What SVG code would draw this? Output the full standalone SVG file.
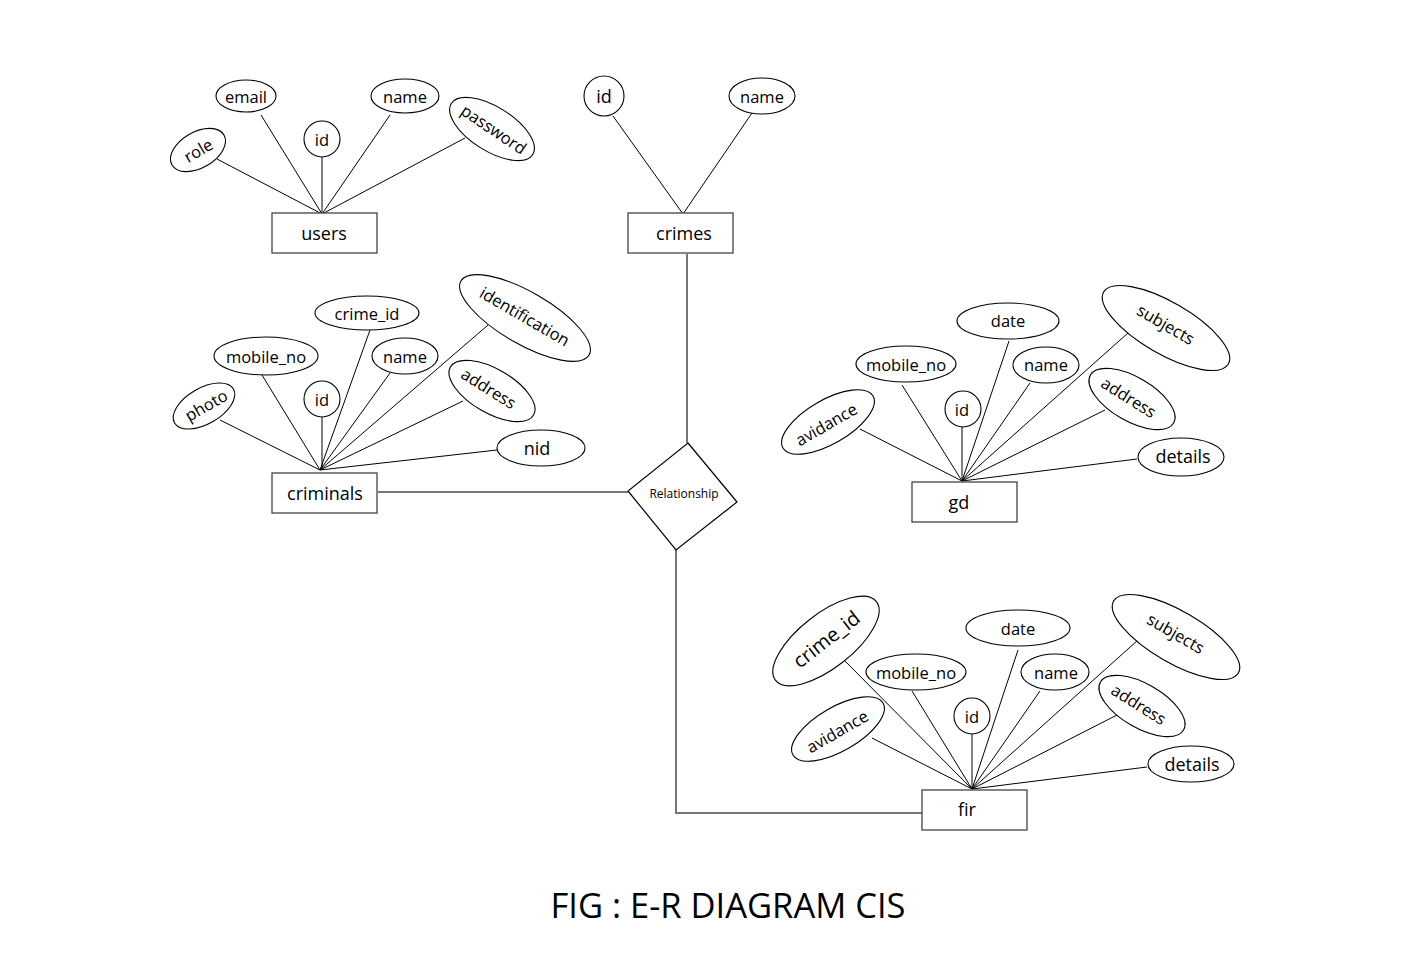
<svg xmlns="http://www.w3.org/2000/svg" width="1408" height="967" viewBox="0 0 1408 967">
<style>
.ent{fill:#fff;stroke:#444;stroke-width:1.3}
.att{fill:#fff;stroke:#000;stroke-width:1.1}
.ln{stroke:#000;stroke-width:1;fill:none}
.rel{stroke:#777;stroke-width:2;fill:none}
.t{font-family:"Open Sans","Liberation Sans",sans-serif;fill:#000;text-anchor:middle;dominant-baseline:central}
.a{font-size:16.5px}
.e{font-size:18px}
</style>
<rect width="1408" height="967" fill="#fff"/>
<g id="connectors">
<line class="ln" x1="322" y1="214" x2="217" y2="159"/>
<line class="ln" x1="322" y1="214" x2="261" y2="115"/>
<line class="ln" x1="322" y1="214" x2="322" y2="157"/>
<line class="ln" x1="322" y1="214" x2="390" y2="115"/>
<line class="ln" x1="322" y1="214" x2="465" y2="138"/>
<line class="ln" x1="683" y1="214" x2="613" y2="116"/>
<line class="ln" x1="683" y1="214" x2="752" y2="113"/>
<line class="ln" x1="320" y1="470" x2="220" y2="420"/>
<line class="ln" x1="320" y1="470" x2="262" y2="375"/>
<line class="ln" x1="322" y1="470" x2="322" y2="417"/>
<line class="ln" x1="320" y1="470" x2="370" y2="330"/>
<line class="ln" x1="320" y1="470" x2="390" y2="373"/>
<line class="ln" x1="320" y1="470" x2="488" y2="325"/>
<line class="ln" x1="320" y1="470" x2="463" y2="401"/>
<line class="ln" x1="320" y1="470" x2="497" y2="450"/>
<line class="ln" x1="962" y1="481" x2="860" y2="429"/>
<line class="ln" x1="962" y1="481" x2="902" y2="385"/>
<line class="ln" x1="962" y1="481" x2="962" y2="427"/>
<line class="ln" x1="962" y1="481" x2="1009" y2="341"/>
<line class="ln" x1="962" y1="481" x2="1030" y2="383"/>
<line class="ln" x1="962" y1="481" x2="1128" y2="333"/>
<line class="ln" x1="962" y1="481" x2="1105" y2="410"/>
<line class="ln" x1="962" y1="481" x2="1137" y2="459"/>
<line class="ln" x1="972" y1="789" x2="842" y2="658"/>
<line class="ln" x1="972" y1="789" x2="872" y2="738"/>
<line class="ln" x1="972" y1="789" x2="912" y2="691"/>
<line class="ln" x1="972" y1="789" x2="972" y2="734"/>
<line class="ln" x1="972" y1="789" x2="1018" y2="650"/>
<line class="ln" x1="972" y1="789" x2="1040" y2="691"/>
<line class="ln" x1="972" y1="789" x2="1138" y2="640"/>
<line class="ln" x1="972" y1="789" x2="1117" y2="715"/>
<line class="ln" x1="972" y1="789" x2="1147" y2="767"/>
<line class="rel" x1="687" y1="254" x2="687" y2="443"/>
<line class="rel" x1="378" y1="492" x2="628" y2="492"/>
<polyline class="rel" points="676,550 676,813 922,813"/>
</g>
<g id="users">
<rect class="ent" x="272" y="213" width="105" height="40"/>
<text class="t e" x="324" y="233">users</text>
</g>
<g id="users-role"><ellipse class="att" cx="198" cy="150" rx="30" ry="18" transform="rotate(-30 198 150)"/><text class="t a" x="198" y="150" transform="rotate(-30 198 150)">role</text></g>
<g id="users-email"><ellipse class="att" cx="246" cy="96" rx="30" ry="16"/><text class="t a" x="246" y="96">email</text></g>
<g id="users-id"><circle class="att" cx="322" cy="139" r="18"/><text class="t a" x="322" y="139">id</text></g>
<g id="users-name"><ellipse class="att" cx="405" cy="96" rx="34" ry="17"/><text class="t a" x="405" y="96">name</text></g>
<g id="users-password"><ellipse class="att" cx="492" cy="129" rx="48" ry="22" transform="rotate(32 492 129)"/><text class="t a" x="494" y="129" transform="rotate(34 494 129)">password</text></g>

<g id="crimes">
<rect class="ent" x="628" y="213" width="105" height="40"/>
<text class="t e" x="684" y="233">crimes</text>
</g>
<g id="crimes-id"><circle class="att" cx="604" cy="96" r="20"/><text class="t e" x="604" y="96">id</text></g>
<g id="crimes-name"><ellipse class="att" cx="762" cy="96" rx="33" ry="18"/><text class="t a" x="762" y="96">name</text></g>

<g id="criminals">
<rect class="ent" x="272" y="473" width="105" height="40"/>
<text class="t e" x="325" y="493">criminals</text>
</g>
<g id="criminals-photo"><ellipse class="att" cx="204" cy="406" rx="34" ry="18" transform="rotate(-30 204 406)"/><text class="t a" x="206" y="405" transform="rotate(-30 206 405)">photo</text></g>
<g id="criminals-mobile_no"><ellipse class="att" cx="266" cy="356" rx="52" ry="19"/><text class="t a" x="266" y="356">mobile_no</text></g>
<g id="criminals-crime_id"><ellipse class="att" cx="367" cy="313" rx="52" ry="17"/><text class="t a" x="367" y="313">crime_id</text></g>
<g id="criminals-id"><circle class="att" cx="322" cy="399" r="18"/><text class="t a" x="322" y="399">id</text></g>
<g id="criminals-name"><ellipse class="att" cx="405" cy="356" rx="33" ry="18"/><text class="t a" x="405" y="356">name</text></g>
<g id="criminals-identification"><ellipse class="att" cx="525" cy="318" rx="74" ry="26" transform="rotate(30 525 318)"/><text class="t a" x="525" y="316" transform="rotate(30 525 316)">identification</text></g>
<g id="criminals-address"><ellipse class="att" cx="492" cy="391" rx="48" ry="22" transform="rotate(30 492 391)"/><text class="t a" x="489" y="388" transform="rotate(32 489 388)">address</text></g>
<g id="criminals-nid"><ellipse class="att" cx="541" cy="448" rx="44" ry="18"/><text class="t e" x="537" y="448">nid</text></g>

<g id="relationship">
<polygon fill="#fff" stroke="#000" stroke-width="1.2" points="688,443 737,502 676,550 628,491"/>
<text class="t" x="684" y="493" font-size="12">Relationship</text>
</g>

<g id="gd">
<rect class="ent" x="912" y="482" width="105" height="40"/>
<text class="t e" x="959" y="502">gd</text>
</g>
<g id="gd-avidance"><ellipse class="att" cx="828" cy="422" rx="52" ry="22" transform="rotate(-30 828 422)"/><text class="t a" x="826" y="424" transform="rotate(-30 826 424)">avidance</text></g>
<g id="gd-mobile_no"><ellipse class="att" cx="906" cy="364" rx="50" ry="18"/><text class="t a" x="906" y="364">mobile_no</text></g>
<g id="gd-date"><ellipse class="att" cx="1008" cy="321" rx="51" ry="18"/><text class="t a" x="1008" y="320">date</text></g>
<g id="gd-id"><circle class="att" cx="963" cy="409" r="18"/><text class="t a" x="962" y="409">id</text></g>
<g id="gd-name"><ellipse class="att" cx="1046" cy="365" rx="33" ry="18"/><text class="t a" x="1046" y="364">name</text></g>
<g id="gd-subjects"><ellipse class="att" cx="1166" cy="328" rx="72" ry="26" transform="rotate(30 1166 328)"/><text class="t a" x="1166" y="324" transform="rotate(30 1166 324)">subjects</text></g>
<g id="gd-address"><ellipse class="att" cx="1132" cy="399" rx="48" ry="22" transform="rotate(30 1132 399)"/><text class="t a" x="1129" y="397" transform="rotate(32 1129 397)">address</text></g>
<g id="gd-details"><ellipse class="att" cx="1181" cy="457" rx="43" ry="19"/><text class="t e" x="1183" y="456">details</text></g>

<g id="fir">
<rect class="ent" x="922" y="790" width="105" height="40"/>
<text class="t e" x="967" y="809">fir</text>
</g>
<g id="fir-crime_id"><ellipse class="att" cx="826" cy="641" rx="64" ry="27" transform="rotate(-38 826 641)"/><text class="t" font-size="20" x="826" y="639" transform="rotate(-38 826 639)">crime_id</text></g>
<g id="fir-avidance"><ellipse class="att" cx="838" cy="729" rx="52" ry="22" transform="rotate(-30 838 729)"/><text class="t a" x="837" y="731" transform="rotate(-30 837 731)">avidance</text></g>
<g id="fir-mobile_no"><ellipse class="att" cx="916" cy="672" rx="50" ry="18"/><text class="t a" x="916" y="672">mobile_no</text></g>
<g id="fir-date"><ellipse class="att" cx="1018" cy="628" rx="52" ry="18"/><text class="t a" x="1018" y="628">date</text></g>
<g id="fir-id"><circle class="att" cx="972" cy="716" r="18"/><text class="t a" x="972" y="716">id</text></g>
<g id="fir-name"><ellipse class="att" cx="1055" cy="672" rx="34" ry="18"/><text class="t a" x="1056" y="672">name</text></g>
<g id="fir-subjects"><ellipse class="att" cx="1176" cy="637" rx="72" ry="26" transform="rotate(30 1176 637)"/><text class="t a" x="1176" y="633" transform="rotate(30 1176 633)">subjects</text></g>
<g id="fir-address"><ellipse class="att" cx="1142" cy="706" rx="48" ry="22" transform="rotate(30 1142 706)"/><text class="t a" x="1139" y="704" transform="rotate(32 1139 704)">address</text></g>
<g id="fir-details"><ellipse class="att" cx="1191" cy="764" rx="43" ry="18"/><text class="t e" x="1192" y="764">details</text></g>

<g id="title">
<text class="t" x="728" y="905" font-size="34" textLength="355" lengthAdjust="spacingAndGlyphs">FIG : E-R DIAGRAM CIS</text>
</g>
</svg>
